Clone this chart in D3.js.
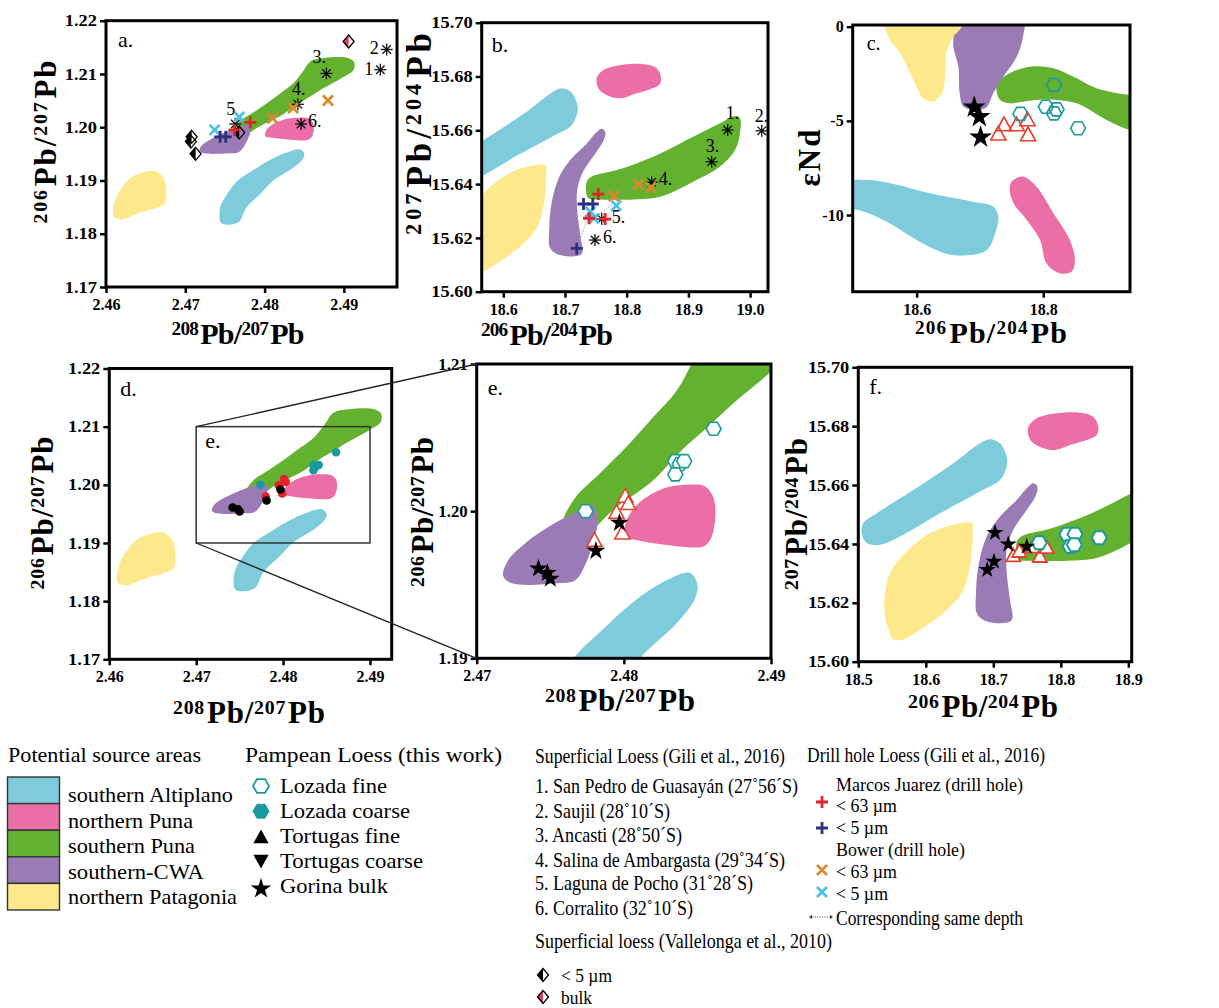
<!DOCTYPE html>
<html><head><meta charset="utf-8">
<script src="https://cdn.jsdelivr.net/npm/d3@7"></script>
<style>
body{margin:0;background:#fff}
svg{display:block}
text{font-family:"Liberation Serif","Times New Roman",serif}
</style>
</head><body>
<svg id="chart" width="1219" height="1008" font-family="Liberation Serif, serif"></svg>
<script>
// ================= DATA =================
const regionNames  = ["southern Altiplano","northern Puna","southern Puna","southern-CWA","northern Patagonia"];
const regionColors = ["#7ecbdc","#eb6ea7","#64b02f","#9a7bb6","#fde98b"];

// --- source fields: 208Pb/207Pb (x) vs 206Pb/207Pb (y)  (panels a, d, e)
const altiplanoPbPb = [[2.4745,1.1820],[2.4743,1.1835],[2.4745,1.1854],[2.4754,1.1877],[2.4766,1.1900],[2.4784,1.1918],[2.4806,1.1938],[2.4829,1.1953],[2.4845,1.1958],[2.4850,1.1950],[2.4848,1.1940],[2.4836,1.1924],[2.4811,1.1900],[2.4796,1.1877],[2.4777,1.1849],[2.4768,1.1823],[2.4756,1.1817]];
const nPunaPbPb     = [[2.4801,1.1983],[2.4802,1.1994],[2.4812,1.2007],[2.4829,1.2016],[2.4843,1.2018],[2.4855,1.2017],[2.4861,1.2009],[2.4862,1.1994],[2.4859,1.1981],[2.4854,1.1976],[2.4829,1.1977],[2.4810,1.1980]];
const sPunaPbPb     = [[2.4762,1.1976],[2.4758,1.1990],[2.4766,1.2008],[2.4784,1.2026],[2.4802,1.2044],[2.4820,1.2064],[2.4836,1.2082],[2.4848,1.2104],[2.4858,1.2124],[2.4875,1.2130],[2.4905,1.2130],[2.4913,1.2122],[2.4912,1.2107],[2.4899,1.2094],[2.4874,1.2073],[2.4858,1.2058],[2.4840,1.2042],[2.4820,1.2021],[2.4793,1.2001],[2.4779,1.1987],[2.4769,1.1976]];
const cwaPbPb       = [[2.4718,1.1956],[2.4721,1.1966],[2.4734,1.1979],[2.4750,1.1990],[2.4765,1.1998],[2.4779,1.2004],[2.4782,1.1992],[2.4779,1.1978],[2.4774,1.1964],[2.4767,1.1953],[2.4755,1.1951],[2.4724,1.1951]];
const patagPbPb     = [[2.4610,1.1831],[2.4609,1.1849],[2.4616,1.1877],[2.4632,1.1906],[2.4651,1.1917],[2.4662,1.1918],[2.4672,1.1906],[2.4676,1.1883],[2.4674,1.1857],[2.4664,1.1849],[2.4643,1.1840],[2.4620,1.1827]];

// --- source fields: 206Pb/204Pb (x) vs 207Pb/204Pb (y)  (panels b, f)
const altiplanoPb204 = [[18.5074,15.6470],[18.5273,15.6504],[18.5815,15.6583],[18.6407,15.6674],[18.6803,15.6742],[18.6951,15.6756],[18.7099,15.6742],[18.7199,15.6696],[18.7199,15.6663],[18.7099,15.6617],[18.6803,15.6578],[18.6210,15.6504],[18.5618,15.6425],[18.5321,15.6397],[18.5124,15.6403],[18.5050,15.6436]];
const nPunaPb204     = [[18.7519,15.6770],[18.7519,15.6798],[18.7643,15.6827],[18.7939,15.6844],[18.8284,15.6846],[18.8481,15.6832],[18.8556,15.6798],[18.8532,15.6770],[18.8384,15.6753],[18.8136,15.6736],[18.7914,15.6719],[18.7741,15.6725],[18.7569,15.6747]];
const sPunaPb204     = [[18.7352,15.6409],[18.7433,15.6428],[18.7838,15.6452],[18.8431,15.6502],[18.9079,15.6576],[18.9512,15.6626],[18.9755,15.6653],[18.9836,15.6645],[18.9836,15.6589],[18.9755,15.6527],[18.9512,15.6465],[18.9079,15.6409],[18.8540,15.6353],[18.8107,15.6343],[18.7567,15.6343],[18.7378,15.6347],[18.7340,15.6378]];
const cwaPb204       = [[18.6754,15.6165],[18.6744,15.6233],[18.6778,15.6323],[18.6902,15.6425],[18.7099,15.6493],[18.7347,15.6549],[18.7495,15.6589],[18.7593,15.6606],[18.7652,15.6595],[18.7633,15.6566],[18.7495,15.6515],[18.7296,15.6448],[18.7199,15.6380],[18.7199,15.6301],[18.7247,15.6210],[18.7273,15.6142],[18.7099,15.6131],[18.6852,15.6142]];
const patagPb204     = [[18.5470,15.6097],[18.5396,15.6153],[18.5396,15.6233],[18.5470,15.6301],[18.5717,15.6374],[18.6062,15.6436],[18.6407,15.6465],[18.6680,15.6470],[18.6695,15.6436],[18.6655,15.6323],[18.6532,15.6233],[18.6259,15.6165],[18.5914,15.6108],[18.5643,15.6074],[18.5519,15.6076]];

// --- source fields: 206Pb/204Pb (x) vs eNd (y)  (panel c)
const altiplanoNd = [[18.47,-9.6],[18.47,-8.3],[18.521,-8.14],[18.558,-8.31],[18.621,-8.84],[18.689,-9.29],[18.721,-9.55],[18.729,-10.08],[18.724,-10.97],[18.711,-11.85],[18.679,-12.14],[18.647,-12.05],[18.600,-11.32],[18.553,-10.35],[18.505,-9.70]];
const nPunaNd     = [[18.750,-8.23],[18.768,-7.96],[18.789,-8.49],[18.816,-9.90],[18.842,-11.32],[18.850,-12.38],[18.845,-13.0],[18.826,-13.09],[18.805,-12.56],[18.795,-11.32],[18.774,-10.26],[18.753,-9.37],[18.747,-8.67]];
const sPunaNd     = [[18.726,-3.36],[18.729,-2.92],[18.747,-2.47],[18.779,-2.12],[18.816,-2.21],[18.847,-2.65],[18.884,-3.27],[18.937,-3.63],[18.97,-3.70],[18.97,-5.60],[18.937,-5.48],[18.900,-4.95],[18.853,-4.07],[18.821,-3.89],[18.789,-3.89],[18.768,-3.98],[18.747,-4.07],[18.732,-3.89]];
const cwaNd       = [[18.660,0.8],[18.768,0.8],[18.768,-0.53],[18.758,-1.59],[18.737,-2.65],[18.721,-3.54],[18.711,-4.25],[18.697,-4.42],[18.674,-4.25],[18.668,-3.54],[18.666,-2.12],[18.658,-1.06],[18.659,-0.3]];
const patagNd     = [[18.550,0.8],[18.671,0.8],[18.671,0],[18.658,-0.53],[18.647,-1.41],[18.645,-2.65],[18.640,-3.54],[18.626,-3.98],[18.610,-3.80],[18.595,-2.83],[18.574,-1.41],[18.555,-0.53]];

// --- Panel a samples (208/207, 206/207)
const gili2016A      = [[2.4946,1.2108],[2.4954,1.2146],[2.4878,1.2101],[2.4842,1.2043],[2.4763,1.2006],[2.4846,1.2006]];
const giliLabelsA    = ["1","2","3.","4.","5","6."];
const marcos63A      = [[2.4782,1.2009],[2.4762,1.1995]];
const marcos5A       = [[2.4744,1.1982],[2.4751,1.1982]];
const bower63A       = [[2.4810,1.2017],[2.4836,1.2036],[2.4880,1.2050]];
const bower5A        = [[2.4737,1.1995],[2.4768,1.2019]];
const vallelonga5A   = [[2.4708,1.1982],[2.4707,1.1973],[2.4713,1.1950],[2.4768,1.1990]];
const vallelongaBulkA= [[2.4906,1.2161]];

// --- Panel b samples (206/204, 207/204)
const gili2016B   = [[18.9637,15.6601],[19.0188,15.6598],[18.9377,15.6483],[18.8405,15.6407],[18.7595,15.6270],[18.7486,15.6192]];
const giliLabelsB = ["1.","2.","3.","4.","5.","6."];
const marcos63B   = [[18.754,15.6363],[18.739,15.6273],[18.765,15.6270]];
const marcos5B    = [[18.730,15.6326],[18.745,15.6326],[18.719,15.6161]];
const bower63B    = [[18.779,15.6356],[18.819,15.6399],[18.839,15.6387]];
const bower5B     = [[18.741,15.6297],[18.783,15.6320],[18.747,15.6273]];
const sameDepthB  = [[[18.719,15.6161],[18.741,15.6297]],[[18.747,15.6273],[18.819,15.6399]],[[18.765,15.6270],[18.783,15.6320]]];

// --- Panel c samples (206/204, eNd)
const gorinaC  = [[18.691,-4.28],[18.699,-4.78],[18.701,-5.87]];
const tortuC   = [[18.738,-5.22],[18.729,-5.71],[18.758,-5.22],[18.775,-4.95],[18.776,-5.75]];
const lozadaC  = [[18.817,-3.09],[18.764,-4.63],[18.804,-4.25],[18.821,-4.39],[18.817,-4.60],[18.855,-5.39]];

// --- Panels d & e samples (208/207, 206/207)
const lozadaE  = [[2.4774,1.2000],[2.4861,1.2056],[2.4835,1.2034],[2.4838,1.2032],[2.4841,1.2034],[2.4835,1.2025]];
const tortuE   = [[2.4780,1.1980],[2.4795,1.1999],[2.4801,1.2010],[2.4803,1.2005],[2.4799,1.1985]];
const gorinaE  = [[2.4742,1.1961],[2.4748,1.1958],[2.4750,1.1954],[2.4781,1.1973],[2.4797,1.1992]];

// --- Panel f samples (206/204, 207/204)
const gorinaF  = [[18.7025,15.6438],[18.7222,15.6399],[18.7495,15.6391],[18.7010,15.6340],[18.6910,15.6312]];
const tortuF   = [[18.7296,15.6359],[18.7385,15.6374],[18.7590,15.6389],[18.7690,15.6357],[18.7790,15.6387]];
const lozadaF  = [[18.768,15.6404],[18.809,15.6433],[18.821,15.6433],[18.814,15.6391],[18.820,15.6397],[18.857,15.6421]];

// --- tick values
const ticksPb207x = [2.46,2.47,2.48,2.49];
const ticksPb207y = [1.17,1.18,1.19,1.20,1.21,1.22];
const ticksEx     = [2.47,2.48,2.49];
const ticksEy     = [1.19,1.20,1.21];
const ticksBx     = [18.6,18.7,18.8,18.9,19.0];
const ticksFx     = [18.5,18.6,18.7,18.8,18.9];
const ticks204y   = [15.60,15.62,15.64,15.66,15.68,15.70];
const ticksCx     = [18.6,18.8];
const ticksCy     = [0,-5,-10];

// --- legend texts
const pampeanNames = ["Lozada fine","Lozada coarse","Tortugas fine","Tortugas coarse","Gorina bulk"];
const giliSites = ["1. San Pedro de Guasayán (27˚56´S)","2. Saujil (28˚10´S)","3. Ancasti (28˚50´S)","4. Salina de Ambargasta (29˚34´S)","5. Laguna de Pocho (31˚28´S)","6. Corralito (32˚10´S)"];

// ================= STYLE =================
const C = {teal:"#1b9a9b", tri:"#e5412b", red:"#e3222a", navy:"#2d3080", orange:"#d98a2e", lblue:"#49c0ea", dred:"#e33a5c"};
const SERIF = "Liberation Serif, Times New Roman, serif";
const svg = d3.select("#chart");
const defs = svg.append("defs");

// ================= HELPERS =================
const fieldLine = (x,y) => d3.line().curve(d3.curveCatmullRomClosed.alpha(0.5)).x(d=>x(d[0])).y(d=>y(d[1]));

function makePanel(o){
  const x = d3.scaleLinear().domain(o.xdom).range([o.l,o.r]);
  const y = d3.scaleLinear().domain(o.ydom).range([o.b,o.t]);
  const g = svg.append("g");
  defs.append("clipPath").attr("id","clip"+o.id).append("rect")
    .attr("x",o.l).attr("y",o.t).attr("width",o.r-o.l).attr("height",o.b-o.t);
  const fields = g.append("g").attr("clip-path",`url(#clip${o.id})`);
  const line = fieldLine(x,y);
  o.fields.forEach((f,i)=>{ if(f) fields.append("path").attr("d",line(f)).attr("fill",regionColors[i]); });
  const ax = g.append("g").attr("transform",`translate(0,${o.b})`)
    .call(d3.axisBottom(x).tickValues(o.xticks).tickFormat(o.xfmt).tickSize(6).tickPadding(5.5));
  const ay = g.append("g").attr("transform",`translate(${o.l},0)`)
    .call(d3.axisLeft(y).tickValues(o.yticks).tickFormat(o.yfmt).tickSize(6).tickPadding(3));
  [ax,ay].forEach(a=>{
    a.attr("font-family",SERIF);
    a.select(".domain").remove();
    a.selectAll("line").attr("stroke","#000").attr("stroke-width",2.5);
    a.selectAll("text").attr("fill","#000").attr("font-weight","bold").attr("font-size",16);
  });
  ay.selectAll("text").attr("x",0).attr("transform",`translate(-9,0) scale(${o.ystretch||1},1)`);
  g.append("rect").attr("x",o.l).attr("y",o.t).attr("width",o.r-o.l).attr("height",o.b-o.t)
    .attr("fill","none").attr("stroke","#000").attr("stroke-width",3);
  g.append("text").attr("x",o.l+o.tag[1]).attr("y",o.t+o.tag[2]).attr("font-size",o.tag[3]||22).text(o.tag[0]);
  const marks = g.append("g");
  return {x,y,g,marks};
}

function axisTitle(parts,cx,cy,len,rot,F){
  const t = svg.append("text").attr("font-weight","bold").attr("text-anchor","middle")
    .attr("font-size",F).attr("fill","#000")
    .attr("transform",`translate(${cx},${cy})${rot?" rotate(-90)":""}`)
    .attr("textLength",len).attr("lengthAdjust","spacing");
  let up=false;
  parts.forEach(p=>{
    const sup = /^\d+$/.test(p);
    const ts = t.append("tspan").text(p);
    if(sup){ ts.attr("font-size",F*0.64); if(!up){ts.attr("dy",-F*0.3);} up=true; }
    else { if(up){ts.attr("dy",F*0.3).attr("dx",2);} up=false; }
  });
  return t;
}
const pbTitle = (a,b)=>[a,"Pb/",b,"Pb"];

function asterisk(g,cx,cy,r){
  [0,45,90,135].forEach(a=>{const t=a*Math.PI/180;
    g.append("line").attr("x1",cx-r*Math.cos(t)).attr("y1",cy-r*Math.sin(t))
      .attr("x2",cx+r*Math.cos(t)).attr("y2",cy+r*Math.sin(t))
      .attr("stroke","#111").attr("stroke-width",1.3);});
  g.append("circle").attr("cx",cx).attr("cy",cy).attr("r",1.6).attr("fill","#000");
}
function plus(g,cx,cy,r,col){
  g.append("path").attr("d",`M${cx-r},${cy}H${cx+r}M${cx},${cy-r}V${cy+r}`)
    .attr("stroke",col).attr("stroke-width",2.8).attr("fill","none");
}
function cross(g,cx,cy,r,col){
  g.append("path").attr("d",`M${cx-r},${cy-r}L${cx+r},${cy+r}M${cx-r},${cy+r}L${cx+r},${cy-r}`)
    .attr("stroke",col).attr("stroke-width",2.8).attr("fill","none");
}
function diamond(g,cx,cy,fill){
  const w=5.5,h=6.5;
  g.append("path").attr("d",`M${cx},${cy-h}L${cx-w},${cy}L${cx},${cy+h}Z`).attr("fill",fill);
  g.append("path").attr("d",`M${cx},${cy-h}L${cx+w},${cy}L${cx},${cy+h}L${cx-w},${cy}Z`)
    .attr("fill","none").attr("stroke","#000").attr("stroke-width",1.3);
}
function hexagon(g,cx,cy,r,fill,stroke,sw){
  const pts=d3.range(6).map(i=>[cx+r*Math.cos(i*Math.PI/3), cy+r*Math.sin(i*Math.PI/3)]);
  g.append("path").attr("d","M"+pts.join("L")+"Z").attr("fill",fill).attr("stroke",stroke).attr("stroke-width",sw);
}
function triangle(g,cx,cy,r,fill,stroke,sw,down){
  const s = down?-1:1;
  g.append("path").attr("d",`M${cx},${cy-s*r}L${cx+r*0.95},${cy+s*r*0.72}L${cx-r*0.95},${cy+s*r*0.72}Z`)
    .attr("fill",fill).attr("stroke",stroke).attr("stroke-width",sw);
}
function star(g,cx,cy,size){
  g.append("path").attr("d",d3.symbol(d3.symbolStar,size)()).attr("transform",`translate(${cx},${cy})`).attr("fill","#000");
}

const f2 = d3.format(".2f"), f1 = d3.format(".1f"), fi = d=>String(d);

// ================= PANEL A =================
const A = makePanel({id:"a",l:106,t:20.7,r:397,b:287,xdom:[2.46,2.4967],ydom:[1.17,1.22],
  xticks:ticksPb207x,yticks:ticksPb207y,xfmt:f2,yfmt:f2,ystretch:1.15,
  fields:[altiplanoPbPb,nPunaPbPb,sPunaPbPb,cwaPbPb,patagPbPb],tag:["a.",12,26]});
vallelonga5A.forEach(d=>diamond(A.marks,A.x(d[0]),A.y(d[1]),"#000"));
vallelongaBulkA.forEach(d=>diamond(A.marks,A.x(d[0]),A.y(d[1]),C.dred));
const labOffA = [[-7,5,"end"],[-8,5,"end"],[-14,-10,"start"],[-6,-9,"start"],[-9,-9,"start"],[7,3,"start"]];
gili2016A.forEach((d,i)=>{const px=A.x(d[0]),py=A.y(d[1]); asterisk(A.marks,px,py,6);
  A.marks.append("text").attr("x",px+labOffA[i][0]).attr("y",py+labOffA[i][1]).attr("text-anchor",labOffA[i][2])
   .attr("font-size",18).text(giliLabelsA[i]);});
bower63A.forEach(d=>cross(A.marks,A.x(d[0]),A.y(d[1]),5,C.orange));
bower5A.forEach(d=>cross(A.marks,A.x(d[0]),A.y(d[1]),5,C.lblue));
marcos63A.forEach(d=>plus(A.marks,A.x(d[0]),A.y(d[1]),6,C.red));
marcos5A.forEach(d=>plus(A.marks,A.x(d[0]),A.y(d[1]),6,C.navy));
axisTitle(pbTitle("208","207"),238,344,133,false,30);
axisTitle(pbTitle("206","207"),56,142,163,true,31);

// ================= PANEL B =================
const B = makePanel({id:"b",l:481.7,t:22.7,r:768,b:291.7,xdom:[18.565,19.029],ydom:[15.60,15.70],
  xticks:ticksBx,yticks:ticks204y,xfmt:f1,yfmt:f2,ystretch:1.15,
  fields:[altiplanoPb204,nPunaPb204,sPunaPb204,cwaPb204,patagPb204],tag:["b.",10,29]});
sameDepthB.forEach(p=>B.marks.append("line").attr("x1",B.x(p[0][0])).attr("y1",B.y(p[0][1]))
  .attr("x2",B.x(p[1][0])).attr("y2",B.y(p[1][1])).attr("stroke","#999").attr("stroke-width",0.9).attr("stroke-dasharray","1.5,1.5"));
const labOffB = [[-2,-11,"start"],[-7,-9,"start"],[-6,-10,"start"],[7,3,"start"],[10,4,"start"],[8,3,"start"]];
gili2016B.forEach((d,i)=>{const px=B.x(d[0]),py=B.y(d[1]); asterisk(B.marks,px,py,6);
  B.marks.append("text").attr("x",px+labOffB[i][0]).attr("y",py+labOffB[i][1]).attr("text-anchor",labOffB[i][2])
   .attr("font-size",18).text(giliLabelsB[i]);});
bower63B.forEach(d=>cross(B.marks,B.x(d[0]),B.y(d[1]),5,C.orange));
bower5B.forEach(d=>cross(B.marks,B.x(d[0]),B.y(d[1]),5,C.lblue));
marcos63B.forEach(d=>plus(B.marks,B.x(d[0]),B.y(d[1]),6,C.red));
marcos5B.forEach(d=>plus(B.marks,B.x(d[0]),B.y(d[1]),6,C.navy));
axisTitle(pbTitle("206","204"),547,345,132,false,30);
axisTitle(pbTitle("207","204"),431,134,202,true,35);

// ================= PANEL C =================
const Cp = makePanel({id:"c",l:852.7,t:25,r:1130,b:291.7,xdom:[18.499,18.937],ydom:[-14.07,0.09],
  xticks:ticksCx,yticks:ticksCy,xfmt:f1,yfmt:fi,ystretch:1,
  fields:[altiplanoNd,nPunaNd,sPunaNd,cwaNd,patagNd],tag:["c.",14,25,20]});
gorinaC.forEach(d=>star(Cp.marks,Cp.x(d[0]),Cp.y(d[1]),160));
tortuC.forEach(d=>triangle(Cp.marks,Cp.x(d[0]),Cp.y(d[1]),8,"none",C.tri,1.6));
lozadaC.forEach(d=>hexagon(Cp.marks,Cp.x(d[0]),Cp.y(d[1]),7.5,"none",C.teal,1.6));
axisTitle(pbTitle("206","204"),991,343,152,false,30);
axisTitle(["ε","Nd"],820,158,57,true,31);

// ================= PANEL D =================
const D = makePanel({id:"d",l:109.3,t:368.5,r:391.7,b:659.3,xdom:[2.46,2.4925],ydom:[1.17,1.22],
  xticks:ticksPb207x,yticks:ticksPb207y,xfmt:f2,yfmt:f2,ystretch:1.15,
  fields:[altiplanoPbPb,nPunaPbPb,sPunaPbPb,cwaPbPb,patagPbPb],tag:["d.",11,27]});
D.marks.append("rect").attr("x",D.x(2.47)).attr("y",D.y(1.21)).attr("width",D.x(2.49)-D.x(2.47)).attr("height",D.y(1.19)-D.y(1.21))
  .attr("fill","none").attr("stroke","#333").attr("stroke-width",1.5);
D.marks.append("text").attr("x",D.x(2.47)+9).attr("y",D.y(1.21)+21).attr("font-size",22).text("e.");
lozadaE.forEach(d=>D.marks.append("circle").attr("cx",D.x(d[0])).attr("cy",D.y(d[1])).attr("r",4.3).attr("fill",C.teal));
tortuE.forEach(d=>D.marks.append("circle").attr("cx",D.x(d[0])).attr("cy",D.y(d[1])).attr("r",4.3).attr("fill",C.red));
gorinaE.forEach(d=>D.marks.append("circle").attr("cx",D.x(d[0])).attr("cy",D.y(d[1])).attr("r",4.3).attr("fill","#000"));
axisTitle(pbTitle("208","207"),249,723,152,false,31);
axisTitle(pbTitle("206","207"),53,513,153,true,31);

// ================= PANEL E =================
const E = makePanel({id:"e",l:476.7,t:364,r:771,b:658.3,xdom:[2.47,2.49],ydom:[1.19,1.21],
  xticks:ticksEx,yticks:ticksEy,xfmt:f2,yfmt:f2,ystretch:1.05,
  fields:[altiplanoPbPb,nPunaPbPb,sPunaPbPb,cwaPbPb,patagPbPb],tag:["e.",11,31]});
lozadaE.forEach(d=>hexagon(E.marks,E.x(d[0]),E.y(d[1]),7.5,"#fff",C.teal,1.6));
tortuE.forEach(d=>triangle(E.marks,E.x(d[0]),E.y(d[1]),8,"#fff",C.tri,1.6));
gorinaE.forEach(d=>star(E.marks,E.x(d[0]),E.y(d[1]),110));
axisTitle(pbTitle("208","207"),620,711,150,false,31);
axisTitle(pbTitle("206","207"),433,512,150,true,31);
svg.append("line").attr("x1",D.x(2.47)).attr("y1",D.y(1.21)).attr("x2",E.x(2.47)).attr("y2",E.y(1.21)).attr("stroke","#222").attr("stroke-width",1.3);
svg.append("line").attr("x1",D.x(2.47)).attr("y1",D.y(1.19)).attr("x2",E.x(2.47)).attr("y2",E.y(1.19)).attr("stroke","#222").attr("stroke-width",1.3);

// ================= PANEL F =================
const F = makePanel({id:"f",l:858.3,t:367.3,r:1131.7,b:661.7,xdom:[18.5,18.905],ydom:[15.60,15.70],
  xticks:ticksFx,yticks:ticks204y,xfmt:f1,yfmt:f2,ystretch:1.15,
  fields:[altiplanoPb204,nPunaPb204,sPunaPb204,cwaPb204,patagPb204],tag:["f.",11,27]});
tortuF.forEach(d=>triangle(F.marks,F.x(d[0]),F.y(d[1]),7.5,"#fff",C.tri,1.8));
lozadaF.forEach(d=>hexagon(F.marks,F.x(d[0]),F.y(d[1]),7.5,"#fff",C.teal,2));
gorinaF.forEach(d=>star(F.marks,F.x(d[0]),F.y(d[1]),90));
axisTitle(pbTitle("206","204"),983,717,150,false,31);
axisTitle(pbTitle("207","204"),807,514,152,true,31);

// ================= LEGEND =================
const L = svg.append("g").attr("font-size",21).attr("fill","#000");
function ltext(x,y,s,len,fs){ const t=L.append("text").attr("x",x).attr("y",y).attr("textLength",len).attr("lengthAdjust","spacingAndGlyphs").text(s); if(fs) t.attr("font-size",fs); return t; }

ltext(8,762,"Potential source areas",193);
const srcLens=[165,125,127,136,169];
regionNames.forEach((n,i)=>{
  L.append("rect").attr("x",7.5).attr("y",777+i*26.6).attr("width",52).attr("height",26.6)
    .attr("fill",regionColors[i]).attr("stroke","#333").attr("stroke-width",1.4);
  ltext(68,802+i*25.5,n,srcLens[i]);
});
ltext(245,762,"Pampean Loess  (this work)",257);
const pampLens=[107,130,120,143,108];
pampeanNames.forEach((n,i)=>{
  const cy=786+i*25.2, cx=261;
  if(i===0) hexagon(L,cx,cy,8,"#fff",C.teal,1.8);
  if(i===1) hexagon(L,cx,cy,8,C.teal,C.teal,1);
  if(i===2) triangle(L,cx,cy+1,8,"#000","none",0,false);
  if(i===3) triangle(L,cx,cy-1,8,"#000","none",0,true);
  if(i===4) star(L,cx,cy+2,130);
  ltext(280,793+i*25.1,n,pampLens[i]);
});
ltext(535,763,"Superficial Loess  (Gili et al., 2016)",250);
const siteLens=[263,135,147,250,218,158];
const siteY=[793,818,842,867,890,915];
giliSites.forEach((s,i)=>ltext(535,siteY[i],s,siteLens[i]));
ltext(535,948,"Superficial loess (Vallelonga et al., 2010)",297);
diamond(L,543,975,"#000"); ltext(561,982,"< 5 µm",51,18);
diamond(L,543,997,C.dred); ltext(561,1003.5,"bulk",31,18);
ltext(807,762,"Drill hole Loess  (Gili et al., 2016)",238);
ltext(836,791,"Marcos Juarez (drill hole)",187,18.5);
plus(L,822,802,6,C.red); ltext(836,812,"< 63 µm",61,18);
plus(L,822,828,6,C.navy); ltext(836,834,"< 5 µm",52,18);
ltext(836,856,"Bower (drill hole)",129,18.5);
cross(L,822,870,5,C.orange); ltext(836,878,"< 63 µm",61,18);
cross(L,822,892,5,C.lblue); ltext(836,900,"< 5 µm",52,18);
L.append("line").attr("x1",810).attr("y1",917).attr("x2",832).attr("y2",917).attr("stroke","#555").attr("stroke-width",1).attr("stroke-dasharray","1.2,1.2");
L.append("path").attr("d","M809,917l3,-2v4z M833,917l-3,-2v4z").attr("fill","#333");
ltext(836,925,"Corresponding same depth",187);
</script>
</body></html>
